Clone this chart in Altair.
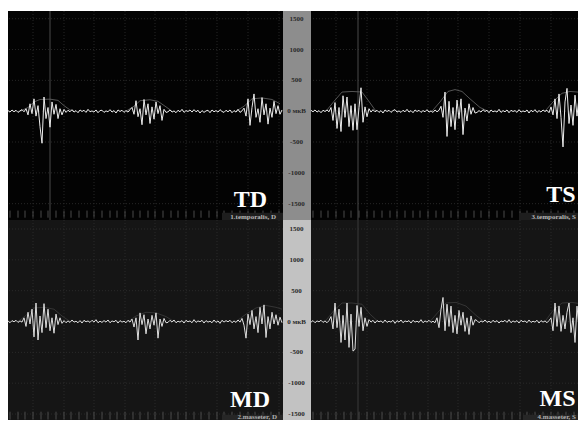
import altair as alt
import pandas as pd

# ---------------- signal values (µV), one sample every 0.02 s ----------------
TD_B0 = [10, -15, 20, -10, 15, -20, 5, 25, -10]
TD_S1 = [40, -60, 120, -40, 200, -80, 90, -250, -520, 230, -120, 60, -260, 150, -50, 110, -120, 40, -60, 30]
TD_B1 = [-20, 15, -10, 25, -15, 10, -25, 20, -5, 15, -20, 30, -10, 5, -15, 20, -25, 10, 15, -20, 5, -10, 25, -15, 10, -30, 20, -5, 15, -20, 10, -15, 25]
TD_S2 = [60, -50, 170, -90, 40, -220, 190, -60, 120, -200, 70, -130, 150, -40, 90, -150, 30, -20]
TD_B2 = [-10, 20, -15, 5, -25, 15, -10, 30, -20, 10, -5, 20, -15, 25, -10, 15, -30, 10, -20, 5, 15, -25, 20, -10, 10, -15, 25, -5, -20, 15, -10, 20, -25, 10, -15, 30, -20, 5]
TD_S3 = [50, -80, 200, -230, 60, 280, -100, 40, -180, 220, -60, 120, -210, 50, -100, 160, -40, 90, -50, 20]

TS_B0 = [15, -10, 20, -15, 10, -25, 15, -5, 20, -10]
TS_S1 = [60, -150, 140, -280, 60, -330, 250, -100, 230, -250, 90, -310, 120, -300, 60, 380, -180, 70, -90, 40]
TS_B1 = [-15, 25, -10, 15, -20, 10, -30, 20, -5, 15, -20, 10, 25, -15, 5, -20, 15, -10, 30, -15, 10, -25, 20, -5, 15, -20, 10, -10, 25, -15, 5, -20, 20, -10, 15]
TS_S2 = [80, -100, 310, -410, 160, -250, 60, -300, 180, -120, 200, -380, 50, -160, 120, -50, 60, -30]
TS_B2 = [-20, 10, -15, 25, -5, 15, -25, 20, -10, 5, -15, 30, -20, 10, -10, 20, -25, 15, -5, 10, -20, 25, -15, 5, -10, 20, -30, 15, -10, 25, -20, 10, -15, 20, -5, 15, -25]
TS_S3 = [70, -60, 200, -120, 280, -100, -580, 150, 370, -200, 100, -230, 260, -80, 220, -150, 90, -80]

MD_B0 = [10, -20, 15, -5, 20, -15, 10, -10]
MD_S1 = [60, -80, 150, -40, 200, -250, 300, -300, 90, -180, 290, -100, 200, -150, 60, -190, 120, -50, 60, -30]
MD_B1 = [15, -20, 10, -15, 25, -10, 5, -20, 15, -25, 20, -5, 10, -15, 20, -10, 30, -20, 5, -15, 15, -10, 25, -20, 10, -5, 20, -25, 15, -10, 5, -20, 20, -10]
MD_S2 = [40, -90, 60, -300, 140, -50, 110, -200, 40, -120, 100, -60, 140, -270, 40, -80, 50, -20]
MD_B2 = [-15, 20, -10, 25, -20, 5, -10, 15, -25, 20, -5, 10, -20, 30, -15, 10, -5, 20, -25, 15, -10, 5, -20, 25, -15, 10, -30, 20, -10, 15, -5, 20, -20, 10, -15, 25, -10]
MD_S3 = [50, -60, -270, 120, -50, 180, -120, 80, -180, 230, -40, 270, -260, 80, -120, 150, -40, 110, -60, 70, -20]

MS_B0 = [-10, 15, -20, 10, -5, 20, -15, 10, -20, 15]
MS_S1 = [80, -120, 300, -100, 200, -340, 100, -300, 300, -420, 120, -480, -450, 260, -80, 230, -150, 60, -80, 30]
MS_B1 = [-10, 20, -25, 15, -5, 10, -20, 25, -15, 5, -10, 20, -30, 15, -10, 25, -20, 10, -5, 15, -25, 20, -10, 5, -15, 30, -20, 10, -10, 20, -15, 5, -20]
MS_S2 = [60, -100, 200, 390, -150, 280, -80, 250, -180, 100, -200, 180, -60, 150, -160, 60, -210, 90, -60, 30]
MS_B2 = [15, -20, 10, -10, 25, -15, 5, -20, 20, -10, 15, -25, 10, -5, 20, -15, 30, -20, 10, -10, 15, -25, 20, -5, 10, -20, 25, -15, 5, -10, 20, -25, 15, -10, 10, -20, 15]
MS_S3 = [60, -150, 300, -80, 250, -160, 100, -120, 150, 300, -180, 60, -340, 250, -100, 160, -120, 80]

TD = TD_B0 + TD_S1 + TD_B1 + TD_S2 + TD_B2 + TD_S3
TS = TS_B0 + TS_S1 + TS_B1 + TS_S2 + TS_B2 + TS_S3
MD = MD_B0 + MD_S1 + MD_B1 + MD_S2 + MD_B2 + MD_S3
MS = MS_B0 + MS_S1 + MS_B1 + MS_S2 + MS_B2 + MS_S3
DT = 0.02

# ---------------- envelopes (time s, µV, segment) ----------------
ENV_TD_T = [0.12, 0.20, 0.26, 0.32, 0.42, 0.50, 0.56, 0.62, 0.66,
            1.18, 1.26, 1.32, 1.42, 1.50, 1.58, 1.64,
            2.28, 2.36, 2.44, 2.54, 2.64, 2.72]
ENV_TD_V = [0, 60, 150, 190, 195, 175, 90, 20, 0,
            0, 80, 170, 185, 160, 70, 0,
            0, 80, 200, 215, 190, 120]
ENV_TD_G = [1] * 9 + [2] * 7 + [3] * 6

ENV_TS_T = [0.15, 0.23, 0.31, 0.41, 0.51, 0.57, 0.65,
            1.21, 1.29, 1.37, 1.44, 1.51, 1.59, 1.69, 1.77,
            2.34, 2.42, 2.51, 2.59, 2.67, 2.74]
ENV_TS_V = [0, 160, 310, 320, 310, 180, 0,
            0, 150, 320, 350, 320, 200, 60, 0,
            0, 150, 290, 320, 310, 270]
ENV_TS_G = [1] * 7 + [2] * 8 + [3] * 6

ENV_MD_T = [0.10, 0.18, 0.26, 0.36, 0.46, 0.54, 0.62,
            1.20, 1.28, 1.38, 1.48, 1.58, 1.66,
            2.28, 2.38, 2.48, 2.58, 2.68, 2.74]
ENV_MD_V = [0, 100, 220, 230, 200, 90, 0,
            0, 90, 150, 140, 80, 0,
            0, 120, 220, 260, 230, 200]
ENV_MD_G = [1] * 7 + [2] * 6 + [3] * 6

ENV_MS_T = [0.14, 0.23, 0.31, 0.41, 0.51, 0.59, 0.67,
            1.19, 1.27, 1.35, 1.45, 1.55, 1.65, 1.73,
            2.34, 2.42, 2.51, 2.61, 2.69, 2.74]
ENV_MS_V = [0, 180, 300, 300, 280, 120, 0,
            0, 150, 300, 310, 250, 100, 0,
            0, 180, 300, 310, 290, 260]
ENV_MS_G = [1] * 7 + [2] * 7 + [3] * 6

# ---------------- axis labels, grid, ruler ----------------
TICK_VALUES = [1500, 1000, 500, 0, -500, -1000, -1500]
TICK_LABELS = ["1500", "1000", "500", "0 мкВ", "-500", "-1000", "-1500"]
GRID_T = [0.25, 0.56, 0.86, 1.17, 1.47, 1.78, 2.09, 2.40, 2.71]
RULER_T = [0.02, 0.10, 0.17, 0.25, 0.33, 0.40, 0.48, 0.56, 0.63, 0.71, 0.79, 0.86,
           0.94, 1.02, 1.09, 1.17, 1.25, 1.32, 1.40, 1.47, 1.55, 1.63, 1.70, 1.78,
           1.86, 1.93, 2.01, 2.09, 2.16, 2.24, 2.32, 2.40, 2.47, 2.55, 2.63, 2.71]

BIG_LABELS = ["TD", "TS", "MD", "MS"]
CHANNEL_NAMES = ["1.temporalis, D", "3.temporalis, S", "2.masseter, D", "4.masseter, S"]

LEFT_X = [0, 2.75]
RIGHT_X = [0, 2.67]
TOP_DOMAIN = [-1765, 1625]
BOT_DOMAIN = [-1597, 1646]

LEFT_W = 275
RIGHT_W = 267
STRIP_W = 28
TOP_H = 209
BOT_H = 200

SERIF = "Liberation Serif"

# footer (ruler + channel name) placement in µV for top / bottom rows
TOP_FOOT = dict(r1=-1612, r2=-1728, box=-1648, name=-1714)
BOT_FOOT = dict(r1=-1462, r2=-1590, box=-1510, name=-1552)


def panel(vals, env_t, env_v, env_g, xdom, width, ydom, height, style, foot,
          big, big_pos, name, name_pos, cursors):
    xs = alt.Scale(domain=xdom, nice=False, zero=False)
    ys = alt.Scale(domain=ydom, nice=False, zero=False)

    def X(f):
        return alt.X(f, type="quantitative", scale=xs, axis=None)

    def Y(f):
        return alt.Y(f, type="quantitative", scale=ys, axis=None)

    sig = pd.DataFrame({"t": [i * DT for i in range(len(vals))], "v": vals})
    env = pd.DataFrame({"t": env_t, "v": env_v, "g": env_g})
    hgrid = pd.DataFrame({"v": TICK_VALUES})
    vgrid = pd.DataFrame({"t": GRID_T})
    cur = pd.DataFrame({"t": cursors})
    bg = pd.DataFrame({"t": [big_pos[0]], "v": [big_pos[1]], "s": [big]})
    ruler = pd.DataFrame({"t": RULER_T, "v": [foot["r1"]] * len(RULER_T), "v2": [foot["r2"]] * len(RULER_T)})
    box = pd.DataFrame({"t": [name_pos[0]], "t2": [xdom[1]], "v": [foot["box"]], "v2": [ydom[0]]})
    nm = pd.DataFrame({"t": [name_pos[1]], "v": [foot["name"]], "s": [name]})

    layers = [
        alt.Chart(hgrid).mark_rule(color=style["grid"], strokeWidth=1, strokeDash=[1, 2], clip=True).encode(y=Y("v")),
        alt.Chart(vgrid).mark_rule(color=style["grid"], strokeWidth=1, strokeDash=[1, 2], clip=True).encode(x=X("t")),
        alt.Chart(ruler).mark_rule(color=style["ruler"], strokeWidth=1, clip=True).encode(x=X("t"), y=Y("v"), y2="v2"),
        alt.Chart(box).mark_rect(color=style["box"], clip=True).encode(x=X("t"), x2="t2", y=Y("v"), y2="v2"),
        alt.Chart(nm).mark_text(align="right", baseline="middle", font=SERIF, fontSize=7,
                                fontWeight="bold", color=style["name"]).encode(x=X("t"), y=Y("v"), text="s"),
    ]
    if cursors:
        layers.append(alt.Chart(cur).mark_rule(color=style["cursor"], strokeWidth=1, clip=True).encode(x=X("t")))
    layers += [
        alt.Chart(env).mark_line(color=style["env"], strokeWidth=0.8, clip=True).encode(x=X("t"), y=Y("v"), detail="g:N"),
        alt.Chart(sig).mark_line(color=style["sig"], strokeWidth=1, clip=True).encode(x=X("t"), y=Y("v")),
        alt.Chart(bg).mark_text(align="right", baseline="alphabetic", font=SERIF, fontSize=24,
                                fontWeight="bold", color="white").encode(x=X("t"), y=Y("v"), text="s"),
    ]
    return alt.layer(*layers).properties(
        width=width, height=height, view=alt.ViewBackground(fill=style["bg"], strokeWidth=0)
    )


def strip(ydom, height, fill):
    ys = alt.Scale(domain=ydom, nice=False, zero=False)
    df = pd.DataFrame({"v": TICK_VALUES, "s": TICK_LABELS})
    return alt.Chart(df).mark_text(align="center", baseline="middle", font=SERIF, fontSize=7,
                                   fontWeight="bold", color="#2a2a2a").encode(
        x=alt.value(13.5),
        y=alt.Y("v:Q", scale=ys, axis=None),
        text="s",
    ).properties(width=STRIP_W, height=height, view=alt.ViewBackground(fill=fill, strokeWidth=0))


TOP_STYLE = dict(bg="#030303", grid="#262626", ruler="#4a4a4a", box="#1e1e1e", name="#b8b8b8",
                 cursor="#4a4a4a", env="#6a6a6a", sig="#ececec")
BOT_STYLE = dict(bg="#151515", grid="#2a2a2a", ruler="#4a4a4a", box="#262626", name="#b0b0b0",
                 cursor="#3a3a3a", env="#3c3c3c", sig="#dedede")

td = panel(TD, ENV_TD_T, ENV_TD_V, ENV_TD_G, LEFT_X, LEFT_W, TOP_DOMAIN, TOP_H, TOP_STYLE, TOP_FOOT,
           BIG_LABELS[0], (2.59, -1554), CHANNEL_NAMES[0], (2.14, 2.68), [0.42])
ts = panel(TS, ENV_TS_T, ENV_TS_V, ENV_TS_G, RIGHT_X, RIGHT_W, TOP_DOMAIN, TOP_H, TOP_STYLE, TOP_FOOT,
           BIG_LABELS[1], (2.645, -1473), CHANNEL_NAMES[1], (2.08, 2.65), [0.47])
md = panel(MD, ENV_MD_T, ENV_MD_V, ENV_MD_G, LEFT_X, LEFT_W, BOT_DOMAIN, BOT_H, BOT_STYLE, BOT_FOOT,
           BIG_LABELS[2], (2.62, -1386), CHANNEL_NAMES[2], (2.14, 2.69), [])
ms = panel(MS, ENV_MS_T, ENV_MS_V, ENV_MS_G, RIGHT_X, RIGHT_W, BOT_DOMAIN, BOT_H, BOT_STYLE, BOT_FOOT,
           BIG_LABELS[3], (2.645, -1370), CHANNEL_NAMES[3], (2.12, 2.65), [0.47])

top = alt.hconcat(td, strip(TOP_DOMAIN, TOP_H, "#8d8d8d"), ts, spacing=0).resolve_scale(x="independent", y="independent")
bot = alt.hconcat(md, strip(BOT_DOMAIN, BOT_H, "#c2c2c2"), ms, spacing=0).resolve_scale(x="independent", y="independent")

chart = alt.vconcat(top, bot, spacing=0).resolve_scale(x="independent", y="independent").properties(
    padding={"left": 0, "top": 3, "right": 0, "bottom": 0}, background="white"
).configure_view(strokeWidth=0)

chart.save("out.html", embed_options={"renderer": "svg", "actions": False})
